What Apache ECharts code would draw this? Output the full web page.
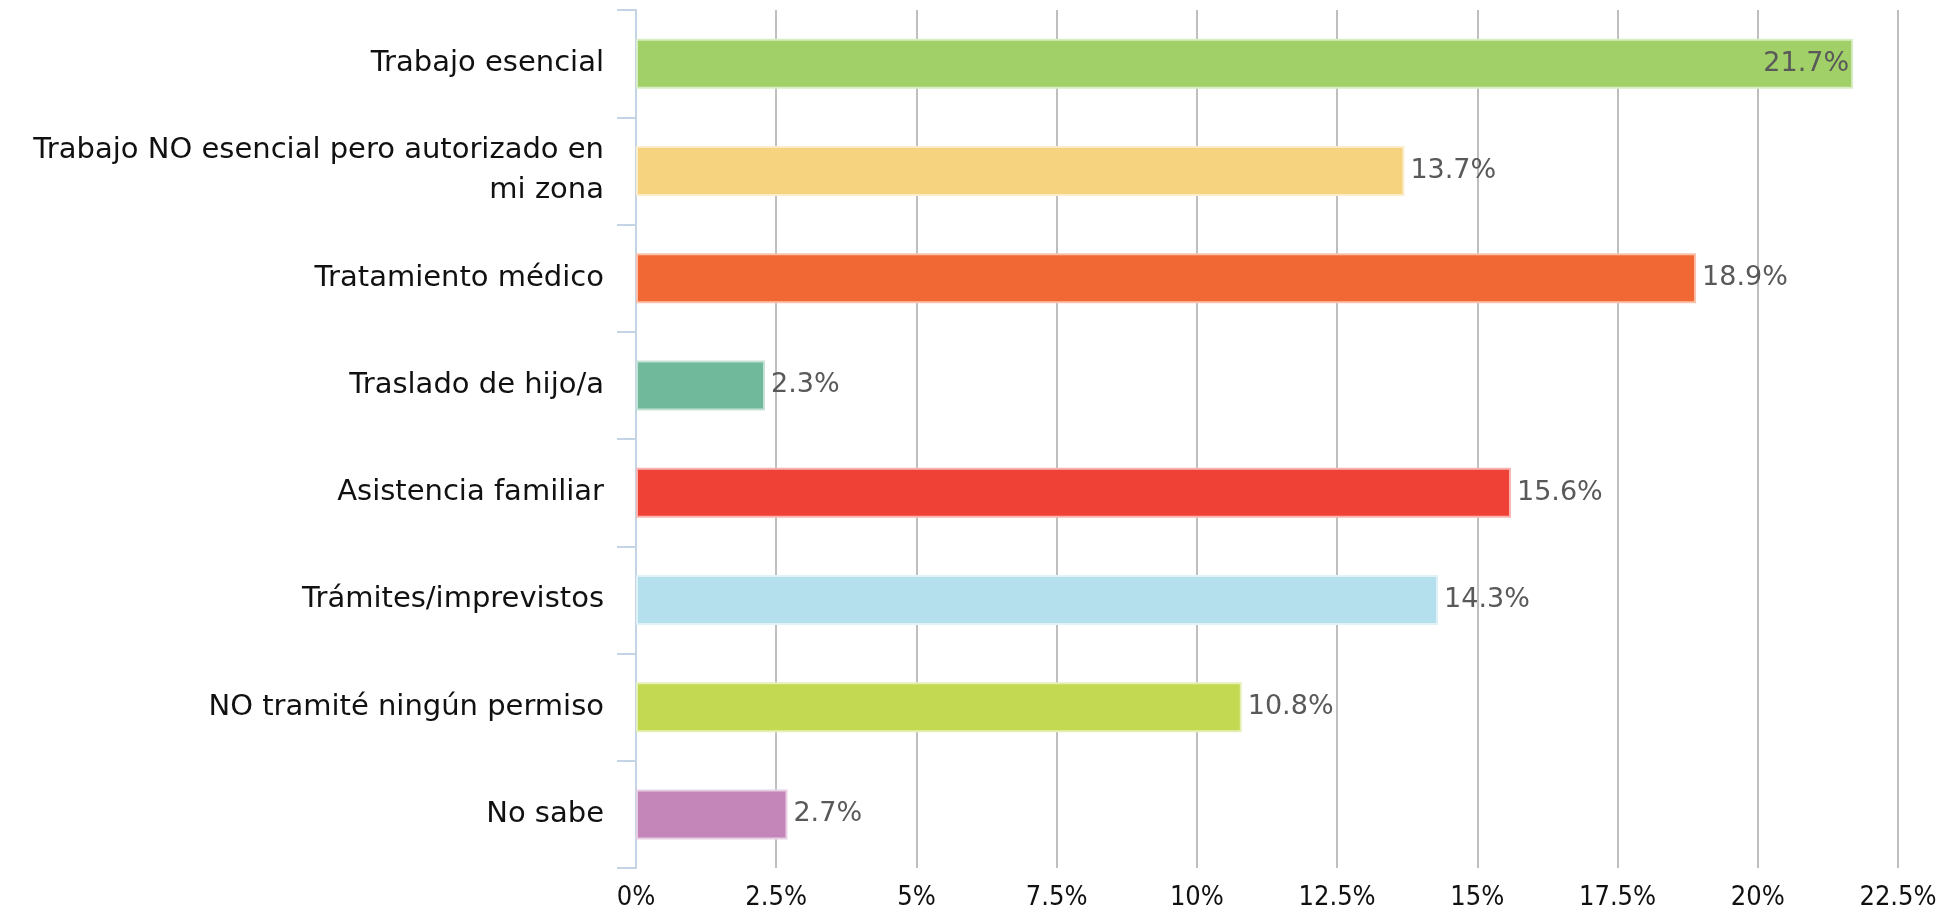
<!DOCTYPE html>
<html>
<head>
<meta charset="utf-8">
<script src="https://cdn.jsdelivr.net/npm/echarts@6/dist/echarts.min.js"></script>
<style>
  html, body { margin: 0; padding: 0; background: #fff; }
  #chart { width: 1945px; height: 916px; }
</style>
</head>
<body>
<div id="chart"></div>
<script>
  // categories, top to bottom
  const categories = [
    'Trabajo esencial',
    'Trabajo NO esencial pero autorizado en\nmi zona',
    'Tratamiento médico',
    'Traslado de hijo/a',
    'Asistencia familiar',
    'Trámites/imprevistos',
    'NO tramité ningún permiso',
    'No sabe'
  ];
  const values = [21.7, 13.7, 18.9, 2.3, 15.6, 14.3, 10.8, 2.7];
  const barColors = ['#a1cf68', '#f6d37f', '#f26835', '#70b99a', '#ef4136', '#b3e0ec', '#c4d952', '#c485b8'];
  const borderColors = ['#d9edc4', '#fbeccb', '#f9c1ab', '#c4e3d6', '#f8b5b0', '#e1f2f7', '#e6efb6', '#e6cde1'];
  const xTicks = [0, 2.5, 5, 7.5, 10, 12.5, 15, 17.5, 20, 22.5];

  const chart = echarts.init(document.getElementById('chart'));

  const barData = values.map(function (v, i) {
    return {
      value: v,
      itemStyle: { color: barColors[i], borderColor: borderColors[i], borderWidth: 2 },
      // the longest bar keeps its label inside, like the original
      label: i === 0 ? { position: 'insideRight', distance: 4 } : undefined
    };
  });

  chart.setOption({
    animation: false,
    grid: { left: 636, right: 47, top: 10, bottom: 48, containLabel: false },
    xAxis: {
      type: 'value',
      min: xTicks[0],
      max: xTicks[xTicks.length - 1],
      interval: 2.5,
      axisLine: { show: false },
      axisTick: { show: false },
      splitLine: { lineStyle: { color: '#bfbfbf', width: 2 } },
      axisLabel: {
        margin: 16,
        fontFamily: 'DejaVu Sans Condensed',
        fontSize: 27,
        color: '#111',
        formatter: function (v) { return v + '%'; }
      }
    },
    yAxis: {
      type: 'category',
      inverse: true,
      data: categories,
      axisLine: { show: true, lineStyle: { color: '#c3d4e6', width: 2 } },
      axisTick: { show: true, inside: false, length: 19, lineStyle: { color: '#c3d4e6', width: 2 } },
      axisLabel: {
        margin: 32,
        fontFamily: 'DejaVu Sans',
        fontSize: 29,
        lineHeight: 40,
        color: '#111',
        align: 'right'
      }
    },
    series: [{
      type: 'bar',
      data: barData,
      barWidth: 50,
      label: {
        show: true,
        position: 'right',
        distance: 6,
        fontFamily: 'DejaVu Sans',
        fontSize: 27,
        color: '#595959',
        formatter: function (p) { return p.value.toFixed(1) + '%'; }
      }
    }]
  });
</script>
</body>
</html>
